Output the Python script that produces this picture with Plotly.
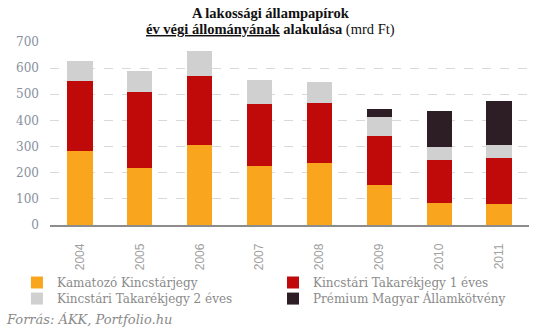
import plotly.graph_objects as go

years = ["2004", "2005", "2006", "2007", "2008", "2009", "2010", "2011"]
kamatozo = [283, 218, 307, 226, 238, 153, 84, 80]
takarek1 = [269, 292, 264, 238, 229, 188, 165, 177]
takarek2 = [76, 80, 96, 92, 81, 73, 50, 50]
premium = [0, 0, 0, 0, 0, 30, 138, 168]

names = ["Kamatozó Kincstárjegy", "Kincstári Takarékjegy 1 éves",
         "Kincstári Takarékjegy 2 éves", "Prémium Magyar Államkötvény"]
colors = ["#F9A61E", "#C00A0A", "#D0D0D0", "#2D1E25"]
series = [kamatozo, takarek1, takarek2, premium]
legend_of = ["legend", "legend2", "legend3", "legend4"]

fig = go.Figure()
for n, c, v, lg in zip(names, colors, series, legend_of):
    fig.add_trace(go.Bar(x=years, y=v, name=n, legend=lg,
                         marker=dict(color=c, line=dict(width=0)), width=0.42))

serif = "'DejaVu Serif', Georgia, serif"
leg_common = dict(orientation="v", yref="container", yanchor="top", xanchor="left",
                  font=dict(family=serif, size=12, color="#8a8a8a"),
                  itemwidth=30, tracegroupgap=0, traceorder="normal",
                  bgcolor="rgba(0,0,0,0)")
col1, col2 = -0.069, 0.4656
row1, row2 = 0.2, 0.152
fig.update_layout(
    barmode="stack",
    width=539, height=335,
    margin=dict(l=50, r=10, t=42, b=110, autoexpand=False),
    paper_bgcolor="white", plot_bgcolor="white",
    font=dict(family=serif, color="#888888"),
    showlegend=True,
    legend=dict(x=col1, y=row1, **leg_common),
    legend2=dict(x=col2, y=row1, **leg_common),
    legend3=dict(x=col1, y=row2, **leg_common),
    legend4=dict(x=col2, y=row2, **leg_common),
    xaxis=dict(tickangle=-90, tickfont=dict(family="'Liberation Sans', Arial, sans-serif", size=12, color="#a0a0a0"),
               showline=True, linecolor="#8c8c8c", linewidth=1.5, ticks="", showgrid=False,
               ticklabelstandoff=12),
    yaxis=dict(range=[0, 700], dtick=100, tickfont=dict(family=serif, size=12, color="#8890a0"),
               showgrid=True, gridcolor="#d9d9d9", griddash="dash", gridwidth=1,
               zeroline=False, ticks="", ticklabelstandoff=10),
)
title_font = dict(family="'Liberation Serif', serif", size=14.5, color="#111111")
fig.add_annotation(
    text="<b>A lakossági állampapírok</b>",
    xref="paper", yref="paper", x=0.461, y=1.161, xanchor="center", yanchor="middle",
    showarrow=False, font=title_font)
fig.add_annotation(
    text="<b><u>év végi állományának</u> alakulása</b> (mrd Ft)",
    xref="paper", yref="paper", x=0.461, y=1.071, xanchor="center", yanchor="middle",
    showarrow=False, font=title_font)
fig.add_annotation(
    text="<i>Forrás: ÁKK, Portfolio.hu</i>", xref="paper", yref="paper",
    x=-0.096, y=-0.519, xanchor="left", yanchor="middle", showarrow=False,
    font=dict(family=serif, size=13, color="#8a8a8a"))
fig.write_html("out.html")
